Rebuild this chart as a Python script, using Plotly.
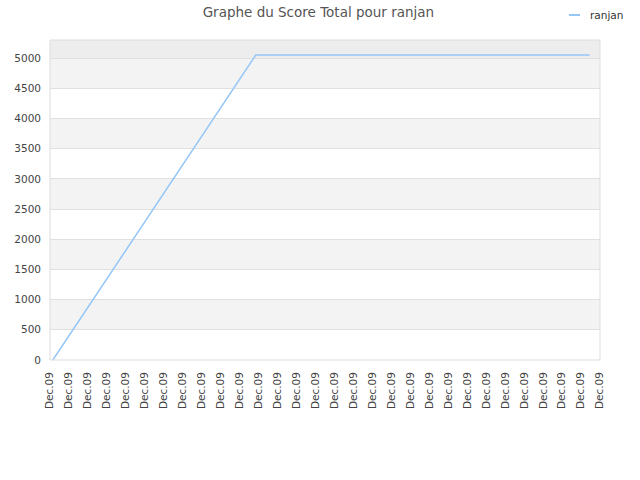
import plotly.graph_objects as go

# tick labels along the x axis (30 dates, all shown as "Dec.09")
tick_pos = list(range(30))
tick_labels = ["Dec.09"] * 30

# score series (x in tick units)
days = [0.15, 10.85, 28.45]
scores = [0, 5050, 5050]

band_edges = [0, 500, 1000, 1500, 2000, 2500, 3000, 3500, 4000, 4500, 5000, 5300]
band_colors = ["#ffffff", "#f3f3f3"] * 5 + ["#ededed"]
line_color = "#94c6f7"

fig = go.Figure()
fig.add_trace(go.Scatter(x=days, y=scores, mode="lines", name="ranjan",
                         line=dict(color=line_color, width=1.5), showlegend=False))

shapes = []
for i in range(len(band_edges) - 1):
    shapes.append(dict(type="rect", xref="paper", yref="y", x0=0, x1=1,
                       y0=band_edges[i], y1=band_edges[i + 1],
                       fillcolor=band_colors[i], line=dict(width=0), layer="below"))
shapes.append(dict(type="rect", xref="paper", yref="paper", x0=0, x1=1, y0=0, y1=1,
                   line=dict(color="#dddddd", width=1), layer="above"))
# legend sample (small line like the original)
shapes.append(dict(type="line", xref="paper", yref="paper",
                   x0=(569 - 50) / 550, x1=(580 - 50) / 550,
                   y0=(360 - 15) / 320, y1=(360 - 15) / 320,
                   line=dict(color=line_color, width=2)))

fig.update_layout(
    width=640, height=480,
    margin=dict(l=50, r=40, t=40, b=120, autoexpand=False),
    paper_bgcolor="white", plot_bgcolor="white",
    font=dict(family="DejaVu Sans", size=10.5, color="#444444"),
    title=dict(text="Graphe du Score Total pour ranjan", x=0.4975, y=1 - 12 / 480,
               xanchor="center", yanchor="middle",
               font=dict(size=13.5, color="#555555")),
    xaxis=dict(range=[0, 29], tickvals=tick_pos, ticktext=tick_labels, tickangle=-90,
               showgrid=False, zeroline=False, showline=False, ticks="",
               ticklabelstandoff=9,
               automargin=False, tickfont=dict(size=10.5, color="#444444")),
    yaxis=dict(range=[0, 5300], tickvals=band_edges[:-1], showgrid=True,
               gridcolor="#e0e0e0", zeroline=False, showline=False, ticks="",
               ticklabelstandoff=8,
               automargin=False, tickfont=dict(size=10.5, color="#444444")),
    shapes=shapes,
    annotations=[dict(text="ranjan", xref="paper", yref="paper",
                      x=(588 - 50) / 550, y=(360 - 15) / 320,
                      xanchor="left", yanchor="middle", showarrow=False,
                      font=dict(size=10.5, color="#333333"))],
)

# the page body has an 8px default margin; drop it so the figure sits at 0,0
fig.write_html("out.html", config={"displayModeBar": False},
               post_script="document.body.style.margin='0';")
